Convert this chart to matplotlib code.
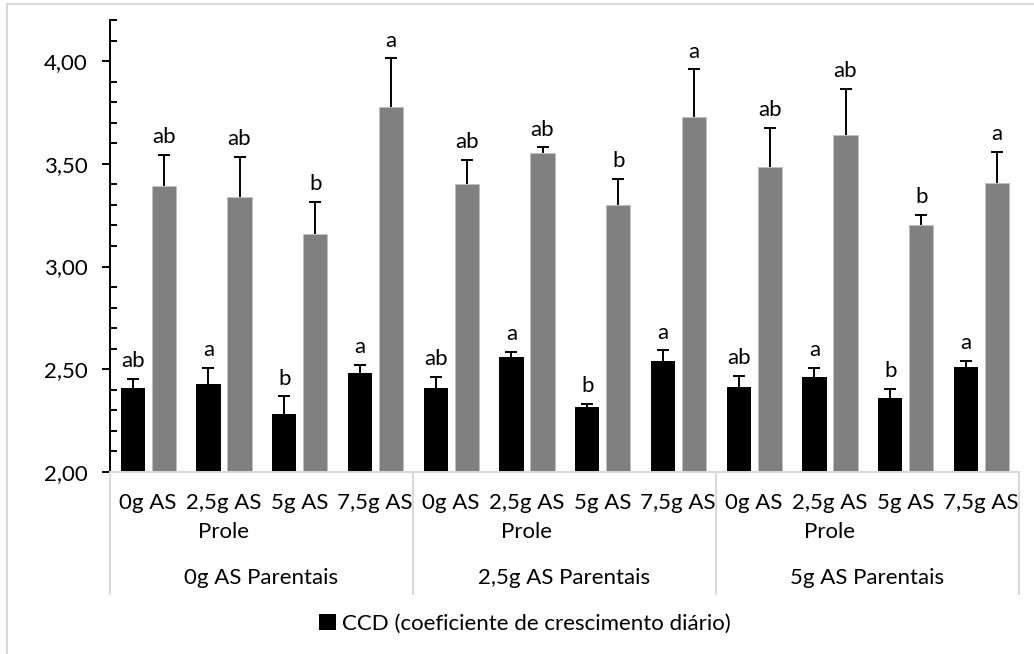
from matplotlib import pyplot as plt
from matplotlib.patches import Rectangle
from matplotlib.ticker import FuncFormatter, MultipleLocator
import matplotlib as mpl
import numpy as np

prole = ["0g AS", "2,5g AS", "5g AS", "7,5g AS"] * 3
parentais = ["0g AS Parentais", "2,5g AS Parentais", "5g AS Parentais"]

ccd = [2.41, 2.43, 2.28, 2.48, 2.41, 2.56, 2.315, 2.54, 2.415, 2.46, 2.36, 2.51]
ccd_err = [0.045, 0.075, 0.088, 0.041, 0.052, 0.023, 0.015, 0.052, 0.053, 0.048, 0.045, 0.032]
ccd_letters = ["ab", "a", "b", "a", "ab", "a", "b", "a", "ab", "a", "b", "a"]

serie2 = [3.39, 3.34, 3.16, 3.775, 3.40, 3.553, 3.30, 3.73, 3.483, 3.64, 3.202, 3.407]
serie2_err = [0.155, 0.193, 0.153, 0.238, 0.118, 0.027, 0.127, 0.23, 0.193, 0.225, 0.049, 0.151]
serie2_letters = ["ab", "ab", "b", "a", "ab", "ab", "b", "a", "ab", "ab", "b", "a"]

fs = 16
mpl.rcParams.update({"font.family": ["Lato", "DejaVu Sans"], "font.size": fs})

fig = plt.figure(figsize=(10.34, 6.54), dpi=100)
ax = fig.add_axes([110/1034, 1-472/654, 909/1034, 452/654])

x = np.arange(len(prole))
w = 0.32
ekw = {'elinewidth': 1.4, 'ecolor': 'black', 'capsize': 4.5, 'capthick': 1.4}
zeros = np.zeros(len(x))
b1 = ax.bar(x - 0.2, np.array(ccd) - 2, bottom=2, width=w, color="black",
            yerr=[zeros, ccd_err], error_kw=ekw, label="CCD (coeficiente de crescimento diário)")
b2 = ax.bar(x + 0.21, np.array(serie2) - 2, bottom=2, width=w, color="#808080",
            edgecolor="#bfbfbf", linewidth=0.6,
            yerr=[zeros, serie2_err], error_kw=ekw)
# only the upper caps
for b in (b1, b2):
    b.errorbar.lines[1][0].set_visible(False)

for i in x:
    ax.annotate(ccd_letters[i], (i - 0.2, ccd[i] + ccd_err[i]), xytext=(0, 8.5),
                textcoords="offset points", ha="center", va="baseline", fontsize=fs)
    ax.annotate(serie2_letters[i], (i + 0.21, serie2[i] + serie2_err[i]), xytext=(0, 8.5),
                textcoords="offset points", ha="center", va="baseline", fontsize=fs)

ax.set_xlim(-0.5, 11.5)
ax.set_ylim(2, 4.2)
ax.yaxis.set_major_locator(MultipleLocator(0.5))
ax.yaxis.set_minor_locator(MultipleLocator(0.1))
ax.yaxis.set_major_formatter(FuncFormatter(lambda v, p: f"{v:.2f}".replace(".", ",")))
ax.tick_params(axis="y", which="major", direction="out", length=6, width=1.4, pad=10, labelsize=fs)
ax.tick_params(axis="y", which="minor", direction="in", length=5, width=1.4)
ax.set_xticks([])
for s in ["top", "right"]:
    ax.spines[s].set_visible(False)
ax.spines["left"].set_linewidth(1.4)
ax.spines["bottom"].set_color("#d9d9d9")
ax.spines["bottom"].set_linewidth(1.4)

# multi-level category axis
tr = ax.get_xaxis_transform()
for i in x:
    ax.text(i, -0.069, prole[i], transform=tr, ha="center", va="center", fontsize=fs)
for g in range(3):
    ax.text(4 * g + 1, -0.133, "Prole", transform=tr, ha="center", va="center", fontsize=fs)
    ax.text(4 * g + 1.5, -0.2345, parentais[g], transform=tr, ha="center", va="center", fontsize=fs)
for xs in [-0.5, 3.5, 7.5, 11.5]:
    ax.plot([xs, xs], [0, -0.27], transform=tr, color="#d9d9d9", lw=1.4, clip_on=False)

fig.legend(handles=[b1.patches[0]], labels=["CCD (coeficiente de crescimento diário)"],
           loc="center", bbox_to_anchor=(525/1034, 1-624/654), frameon=False,
           fontsize=fs, handlelength=0.75, handleheight=0.75, handletextpad=0.3)

fig.patches.append(Rectangle((7/1034, -0.1), 2, 0.9939 + 0.1, transform=fig.transFigure,
                             fill=False, edgecolor="#d9d9d9", lw=1.5))

plt.savefig("out.png", dpi=100)
